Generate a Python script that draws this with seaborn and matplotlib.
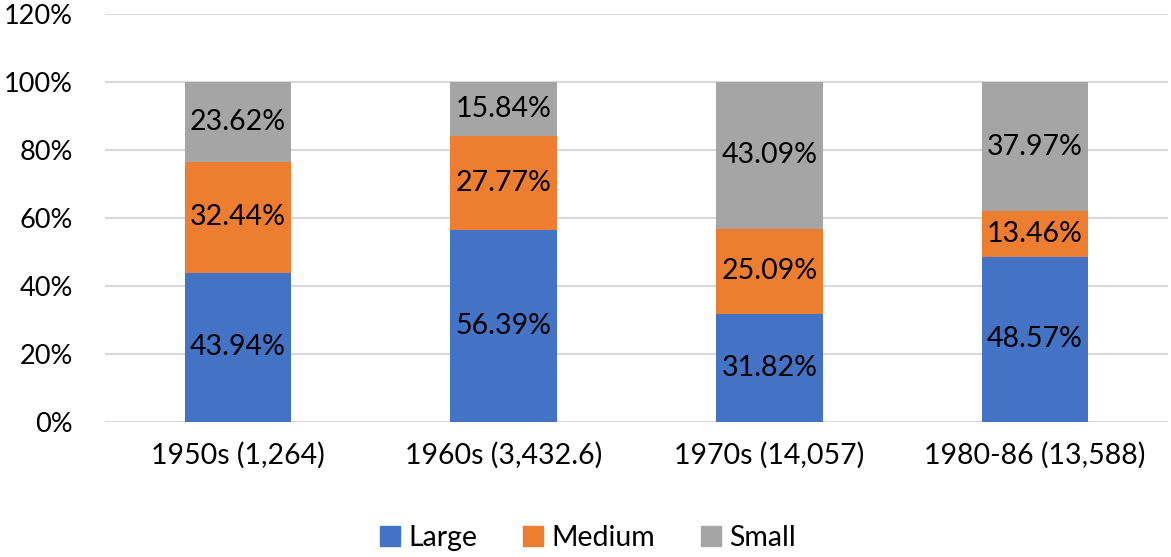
import pandas as pd
import numpy as np
import seaborn as sns
import matplotlib.pyplot as plt
from matplotlib.patches import Patch
from matplotlib.ticker import PercentFormatter

periods = ['1950s (1,264)', '1960s (3,432.6)', '1970s (14,057)', '1980-86 (13,588)']
large = [43.94, 56.39, 31.82, 48.57]
medium = [32.44, 27.77, 25.09, 13.46]
small = [23.62, 15.84, 43.09, 37.97]

colors = {'Large': '#4472C4', 'Medium': '#ED7D31', 'Small': '#A5A5A5'}

df = pd.DataFrame({'period': periods, 'Large': large, 'Medium': medium, 'Small': small})
df['lm'] = df['Large'] + df['Medium']
df['total'] = df['lm'] + df['Small']

sns.set_theme(style='white')
plt.rcParams['font.family'] = ['Lato', 'DejaVu Sans']
plt.rcParams['text.color'] = 'black'

fs = 20.5
fig = plt.figure(figsize=(11.71, 5.57), dpi=100)
ax = fig.add_axes([105/1171, 135/557, 1063/1171, 408/557])

# stacked by overdrawing cumulative totals
sns.barplot(data=df, x='period', y='total', color=colors['Small'], width=0.4, saturation=1, linewidth=0, ax=ax, zorder=2)
sns.barplot(data=df, x='period', y='lm', color=colors['Medium'], width=0.4, saturation=1, linewidth=0, ax=ax, zorder=3)
sns.barplot(data=df, x='period', y='Large', color=colors['Large'], width=0.4, saturation=1, linewidth=0, ax=ax, zorder=4)

for i, row in df.iterrows():
    ax.text(i, row['Large'] / 2, f"{row['Large']:.2f}%", ha='center', va='center', fontsize=fs, color='black', zorder=5)
    ax.text(i, row['Large'] + row['Medium'] / 2, f"{row['Medium']:.2f}%", ha='center', va='center', fontsize=fs, color='black', zorder=5)
    ax.text(i, row['lm'] + row['Small'] / 2, f"{row['Small']:.2f}%", ha='center', va='center', fontsize=fs, color='black', zorder=5)

ax.set_ylim(0, 120)
ax.set_yticks(np.arange(0, 121, 20))
ax.yaxis.set_major_formatter(PercentFormatter(decimals=0))
ax.set_xlim(-0.5, 3.5)
ax.grid(axis='y', color='#D9D9D9', linewidth=1.5, zorder=0)
ax.set_axisbelow(True)
for s in ax.spines.values():
    s.set_visible(False)
ax.set_xlabel('')
ax.set_ylabel('')
ax.tick_params(axis='x', labelsize=fs, length=0, colors='black', pad=14)
ax.tick_params(axis='y', labelsize=19.5, length=0, colors='black', pad=23)

handles = [Patch(color=colors[k]) for k in ['Large', 'Medium', 'Small']]
fig.legend(handles, ['Large', 'Medium', 'Small'], loc='center', bbox_to_anchor=(588/1171, 1 - 538/557),
           ncol=3, frameon=False, fontsize=fs, handlelength=0.7, handleheight=0.7,
           handletextpad=0.3, columnspacing=1.6)

plt.savefig('out.png', dpi=100)
